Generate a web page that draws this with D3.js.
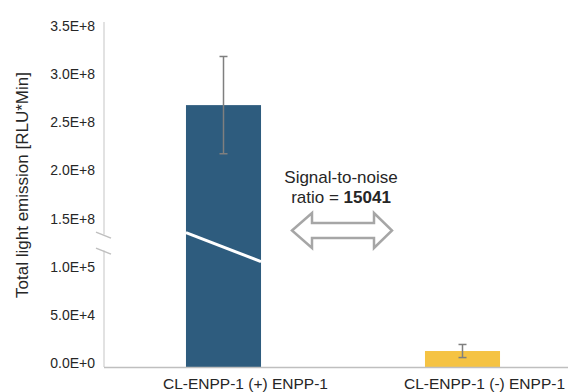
<!DOCTYPE html>
<html>
<head>
<meta charset="utf-8">
<script src="https://cdn.jsdelivr.net/npm/d3@7"></script>
<style>
  body { margin: 0; background: #fff; }
  text { font-family: "Liberation Sans", Arial, sans-serif; fill: #262626; }
</style>
</head>
<body>
<div id="chart"></div>
<script>
const categories = ['CL-ENPP-1 (+) ENPP-1', 'CL-ENPP-1 (-) ENPP-1'];
const values = [2.72e8, 1.66e4];
const errors = [5.05e7, 6.8e3];
const colors = ['#2e5c7e', '#f5c343'];
const lowTicks = [0, 5e4, 1e5];
const highTicks = [1.5e8, 2e8, 2.5e8, 3e8, 3.5e8];
const tickLabels = ['0.0E+0', '5.0E+4', '1.0E+5', '1.5E+8', '2.0E+8', '2.5E+8', '3.0E+8', '3.5E+8'];
const ratioLabel = '15041';

const width = 568, height = 392;
const axisX = 104, baseY = 367;

const svg = d3.select('#chart').append('svg')
      .attr('width', width)
      .attr('height', height);

// broken value axis: lower segment in E+5, upper segment in E+8
const breakY = 222.6;
const yLow = d3.scaleLinear().domain([0, 1.5e5]).range([baseY, breakY]);
const yHigh = d3.scaleLinear().domain([1.5e8, 3.5e8]).range([breakY, 30]);
const y = v => v <= 1.5e5 ? yLow(v) : yHigh(v);

const x = d3.scaleBand()
      .domain(categories)
      .range([axisX, 582])
      .paddingInner(0.686)
      .paddingOuter(0.343);

const data = categories.map((c, i) => ({ cat: c, value: values[i], err: errors[i], color: colors[i] }));

// bars
svg.append('g').selectAll('rect')
    .data(data)
  .enter().append('rect')
    .attr('x', d => x(d.cat))
    .attr('y', d => y(d.value))
    .attr('width', x.bandwidth())
    .attr('height', d => baseY - y(d.value))
    .style('fill', d => d.color);

// white break stripe across the tall bar
const b0 = data[0];
svg.append('line')
    .attr('x1', x(b0.cat)).attr('y1', breakY + 10)
    .attr('x2', x(b0.cat) + x.bandwidth()).attr('y2', breakY + 39)
    .style('stroke', '#fff')
    .style('stroke-width', 3);

// error bars
const eb = svg.append('g').style('stroke', '#7f7f7f').style('stroke-width', 1.5);
data.forEach(d => {
  const cx = x(d.cat) + x.bandwidth() / 2;
  const top = y(d.value + d.err), bot = y(d.value - d.err);
  eb.append('line').attr('x1', cx).attr('x2', cx).attr('y1', top).attr('y2', bot);
  eb.append('line').attr('x1', cx - 4).attr('x2', cx + 4).attr('y1', top).attr('y2', top);
  eb.append('line').attr('x1', cx - 4).attr('x2', cx + 4).attr('y1', bot).attr('y2', bot);
});

// y axis line with gap at the break
const axisG = svg.append('g').style('stroke', '#d9d9d9').style('stroke-width', 1.5);
axisG.append('line').attr('x1', axisX).attr('x2', axisX).attr('y1', 22).attr('y2', breakY + 12);
axisG.append('line').attr('x1', axisX).attr('x2', axisX).attr('y1', breakY + 28).attr('y2', baseY);
[breakY + 9.5, breakY + 25.5].forEach(by => {
  svg.append('line')
      .attr('x1', axisX - 8).attr('y1', by)
      .attr('x2', axisX + 7).attr('y2', by + 6)
      .style('stroke', '#bfbfbf')
      .style('stroke-width', 1.5);
});

// x axis line
svg.append('line')
    .attr('x1', axisX).attr('x2', width)
    .attr('y1', baseY + 0.5).attr('y2', baseY + 0.5)
    .style('stroke', '#bfbfbf')
    .style('stroke-width', 1.5);

// tick labels
const ticks = lowTicks.map(t => y(t)).concat(highTicks.map(t => y(t)));
svg.append('g').selectAll('text')
    .data(ticks)
  .enter().append('text')
    .attr('x', 95)
    .attr('y', d => d - 4)
    .attr('dy', '0.35em')
    .attr('text-anchor', 'end')
    .style('font-size', '14px')
    .text((d, i) => tickLabels[i]);

// category labels (sit a little right of the bar centres, as in the original)
svg.append('g').selectAll('text')
    .data(categories)
  .enter().append('text')
    .attr('x', d => x(d) + x.bandwidth() / 2 + 22)
    .attr('y', 389)
    .attr('text-anchor', 'middle')
    .style('font-size', '15.5px')
    .text(d => d);

// y title
svg.append('text')
    .attr('transform', 'translate(28,185) rotate(-90)')
    .attr('text-anchor', 'middle')
    .style('font-size', '17px')
    .text('Total light emission [RLU*Min]');

// annotation
svg.append('text')
    .attr('x', 341).attr('y', 183)
    .attr('text-anchor', 'middle')
    .style('font-size', '17px')
    .text('Signal-to-noise');
const t2 = svg.append('text')
    .attr('x', 341).attr('y', 203)
    .attr('text-anchor', 'middle')
    .style('font-size', '17px');
t2.append('tspan').text('ratio = ');
t2.append('tspan').style('font-weight', 'bold').text(ratioLabel);

// double arrow
const ay = 230.5;
const arrow = [
  [292, ay], [312, ay - 17.5], [312, ay - 7.5], [374, ay - 7.5], [374, ay - 17.5],
  [392, ay], [374, ay + 17.5], [374, ay + 7.5], [312, ay + 7.5], [312, ay + 17.5]
];
svg.append('path')
    .attr('d', d3.line()(arrow) + 'Z')
    .style('fill', '#fff')
    .style('stroke', '#a6a6a6')
    .style('stroke-width', 2.5)
    .style('stroke-linejoin', 'miter');
</script>
</body>
</html>
